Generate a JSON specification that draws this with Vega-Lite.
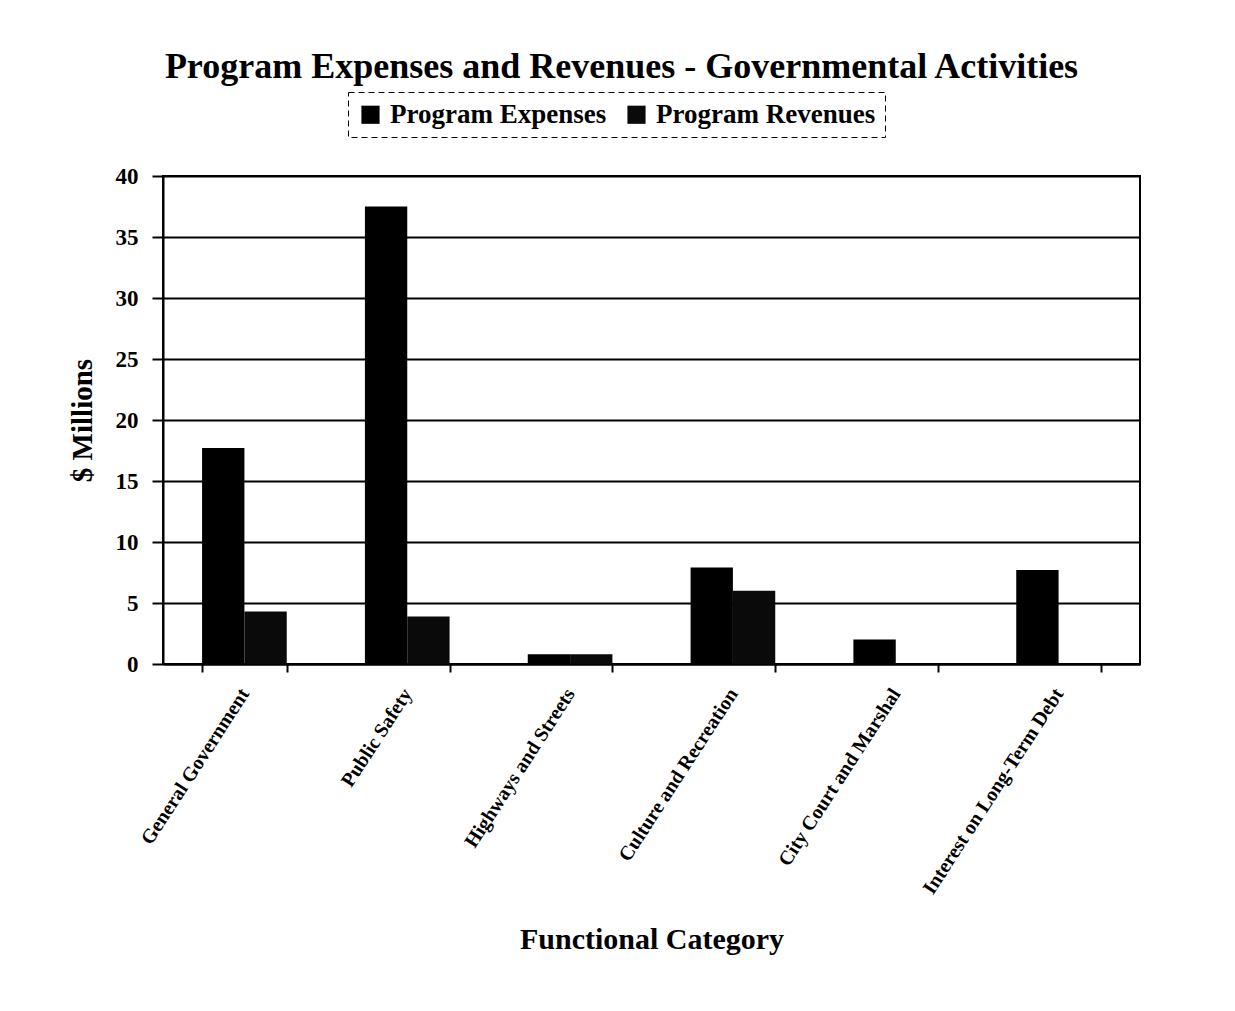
{
  "$schema": "https://vega.github.io/schema/vega-lite/v6.json",
  "width": 977,
  "height": 488,
  "autosize": {"type": "none"},
  "padding": {"left": 163, "top": 176, "right": 95, "bottom": 347},
  "background": "white",
  "title": {
    "text": "Program Expenses and Revenues - Governmental Activities",
    "font": "Liberation Serif",
    "fontSize": 36,
    "fontWeight": "bold",
    "color": "black",
    "anchor": "middle",
    "offset": 6,
    "dx": -30
  },
  "data": {
    "values": [
      {"category": "General Government", "series": "Program Expenses", "value": 17.7},
      {"category": "General Government", "series": "Program Revenues", "value": 4.3},
      {"category": "Public Safety", "series": "Program Expenses", "value": 37.5},
      {"category": "Public Safety", "series": "Program Revenues", "value": 3.9},
      {"category": "Highways and Streets", "series": "Program Expenses", "value": 0.8},
      {"category": "Highways and Streets", "series": "Program Revenues", "value": 0.8},
      {"category": "Culture and Recreation", "series": "Program Expenses", "value": 7.9},
      {"category": "Culture and Recreation", "series": "Program Revenues", "value": 6.0},
      {"category": "City Court and Marshal", "series": "Program Expenses", "value": 2.0},
      {"category": "City Court and Marshal", "series": "Program Revenues", "value": 0},
      {"category": "Interest on Long-Term Debt", "series": "Program Expenses", "value": 7.7},
      {"category": "Interest on Long-Term Debt", "series": "Program Revenues", "value": 0}
    ]
  },
  "mark": {"type": "bar"},
  "encoding": {
    "x": {
      "field": "category",
      "type": "nominal",
      "sort": null,
      "scale": {"paddingInner": 0.48, "paddingOuter": 0.24},
      "axis": {
        "title": "Functional Category",
        "titleFont": "Liberation Serif",
        "titleFontSize": 30,
        "titleFontWeight": "bold",
        "titleColor": "black",
        "titlePadding": 60,
        "labelAngle": -57,
        "labelAlign": "right",
        "labelBaseline": "middle",
        "labelFont": "Liberation Serif",
        "labelFontSize": 20,
        "labelFontWeight": "bold",
        "labelColor": "black",
        "labelPadding": 18,
        "labelLimit": 400,
        "tickBand": "extent",
        "tickColor": "black",
        "tickSize": 8,
        "tickWidth": 2,
        "domainColor": "black",
        "domainWidth": 2
      }
    },
    "xOffset": {"field": "series", "type": "nominal", "scale": {"paddingInner": 0, "paddingOuter": 0}},
    "y": {
      "field": "value",
      "type": "quantitative",
      "scale": {"domain": [0, 40]},
      "axis": {
        "title": "$ Millions",
        "titleFont": "Liberation Serif",
        "titleFontSize": 29,
        "titleFontWeight": "bold",
        "titleColor": "black",
        "titlePadding": 18,
        "values": [0, 5, 10, 15, 20, 25, 30, 35, 40],
        "labelFont": "Liberation Serif",
        "labelFontSize": 23,
        "labelFontWeight": "bold",
        "labelColor": "black",
        "labelPadding": 14,
        "tickColor": "black",
        "tickSize": 11,
        "tickWidth": 2,
        "domainColor": "black",
        "domainWidth": 2,
        "grid": true,
        "gridColor": "black",
        "gridWidth": 2,
        "gridOpacity": 1
      }
    },
    "color": {
      "field": "series",
      "type": "nominal",
      "scale": {"range": ["#000000", "#0a0a0a"]},
      "legend": {
        "title": null,
        "orient": "none",
        "legendX": 185,
        "legendY": -84,
        "direction": "horizontal",
        "symbolType": "square",
        "symbolSize": 330,
        "symbolOpacity": 1,
        "symbolStrokeWidth": 0,
        "labelFont": "Liberation Serif",
        "labelFontSize": 27,
        "labelFontWeight": "bold",
        "labelColor": "black",
        "labelLimit": 400,
        "labelOffset": 6,
        "columnPadding": 16,
        "symbolOffset": 0,
        "padding": 9,
        "strokeColor": "black",
        "encode": {
          "legend": {"update": {"strokeDash": {"value": [6, 4]}, "strokeWidth": {"value": 1}}}
        }
      }
    }
  },
  "config": {
    "view": {"stroke": "black", "strokeWidth": 2}
  }
}
